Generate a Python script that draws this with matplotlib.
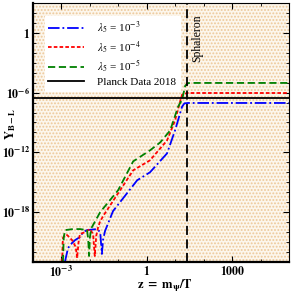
import numpy as np
import matplotlib
matplotlib.use("Agg")
from matplotlib import pyplot as plt
from matplotlib.patches import Rectangle
from matplotlib.ticker import FixedLocator, NullFormatter

plt.rcParams['font.family'] = 'Liberation Serif'
plt.rcParams['mathtext.fontset'] = 'stix'
plt.rcParams['hatch.linewidth'] = 0.9

# log10 of z and Y_{B-L}
green_lz = [-2.95, -2.92, -2.87, -2.6, -2.35, -2.10, -2.06, -2.03, -2.0, -1.95, -1.64,
            -1.01, -0.48, 0.11, 0.47, 0.82, 1.10, 1.24, 1.35, 1.45, 1.52, 5.0]
green_ly = [-23.0, -20.5, -19.8, -19.7, -19.7, -19.8, -20.8, -22.4, -20.5, -19.6, -18.0,
            -15.8, -12.9, -11.8, -11.0, -9.8, -7.4, -6.7, -5.3, -5.05, -5.03, -5.03]

red_lz = [-2.98, -2.95, -2.88, -2.80, -2.63, -2.50, -2.45, -2.40, -2.35, -2.17, -2.0,
          -1.89, -1.83, -1.78, -1.72, -1.64, -1.47, -1.40, -0.48, 0.11, 0.71, 0.99,
          1.17, 1.24, 1.42, 5.0]
red_ly = [-23.0, -20.6, -20.3, -20.3, -20.8, -21.5, -22.6, -21.0, -20.2, -20.0, -19.7,
          -20.2, -22.4, -20.4, -19.6, -18.9, -18.1, -17.8, -13.8, -12.8, -10.8, -8.8,
          -6.9, -6.2, -6.04, -6.04]

blue_lz = [-2.88, -2.77, -2.63, -2.52, -2.35, -2.24, -2.10, -1.75, -1.64, -1.58, -1.54,
           -1.47, -1.19, -0.34, 0.11, 0.71, 0.99, 1.24, 1.32, 1.45, 5.0]
blue_ly = [-23.0, -21.6, -21.1, -20.8, -20.5, -20.0, -19.8, -19.7, -20.0, -22.2, -20.8,
           -19.9, -17.9, -14.8, -14.0, -12.1, -9.8, -7.4, -7.08, -7.04, -7.04]

planck_value = 3.2e-7
z_sphaleron = 26.0

labels = [r'$\lambda_5$ = 10$^{-3}$', r'$\lambda_5$ = 10$^{-4}$', r'$\lambda_5$ = 10$^{-5}$']

fig = plt.figure(figsize=(2.95, 2.95), dpi=100)
ax = fig.add_axes([0.112, 0.112, 0.868, 0.878])

# dotted background texture
ax.add_patch(Rectangle((0, 0), 1, 1, transform=ax.transAxes, facecolor='#fcf6ec',
                       edgecolor='#edc898', hatch='.....', lw=0, zorder=0))

ax.plot(10 ** np.array(blue_lz), 10 ** np.array(blue_ly), color='blue', ls='-.', lw=1.3, label=labels[0])
ax.plot(10 ** np.array(red_lz), 10 ** np.array(red_ly), color='red', ls=(0, (2, 1.2)), lw=1.3, label=labels[1])
ax.plot(10 ** np.array(green_lz), 10 ** np.array(green_ly), color='green', ls=(0, (4, 2)), lw=1.3, label=labels[2])
ax.axhline(planck_value, color='black', lw=1.3, label='Planck Data 2018')
ax.axvline(z_sphaleron, color='black', ls=(0, (5, 2.5)), lw=1.3)
ax.text(z_sphaleron * 1.35, 10 ** 1.9, 'Sphaleron', rotation=90, fontsize=8.5, va='top', ha='left')

ax.set_xscale('log')
ax.set_yscale('log')
ax.set_xlim(1e-4, 1e5)
ax.set_ylim(1e-23, 1e3)

ax.xaxis.set_major_locator(FixedLocator([1e-3, 1, 1e3]))
ax.xaxis.set_minor_locator(FixedLocator([10.0 ** k for k in range(-4, 6)]))
ax.set_xticklabels([r'$\mathbf{10^{-3}}$', r'$\mathbf{1}$', r'$\mathbf{1000}$'])
ax.yaxis.set_major_locator(FixedLocator([1e-18, 1e-12, 1e-6, 1]))
ax.yaxis.set_minor_locator(FixedLocator([10.0 ** k for k in range(-23, 4)]))
ax.set_yticklabels([r'$\mathbf{10^{-18}}$', r'$\mathbf{10^{-12}}$', r'$\mathbf{10^{-6}}$', r'$\mathbf{1}$'])
ax.xaxis.set_minor_formatter(NullFormatter())
ax.yaxis.set_minor_formatter(NullFormatter())
ax.tick_params(which='both', direction='in', top=True, right=True, labelsize=8.5, pad=2)
ax.tick_params(which='major', length=4)
ax.tick_params(which='minor', length=2)

fig.text(0.56, 0.032, r'$\mathbf{z\ =\ m_\psi/T}$', fontsize=9, ha='center', va='center')
fig.text(0.035, 0.58, r'$\mathbf{Y_{B-L}}$', fontsize=9, rotation=90, ha='center', va='center')

for side in ['left', 'bottom']:
    ax.spines[side].set_linewidth(1.6)
for side in ['top', 'right']:
    ax.spines[side].set_linewidth(0.8)

leg = ax.legend(loc='upper left', bbox_to_anchor=(0.025, 0.97), fontsize=8, frameon=True,
                fancybox=False, framealpha=1, edgecolor='white', handlelength=3.2,
                borderpad=0.3, labelspacing=0.25, handletextpad=1.2)

plt.savefig('out.png', dpi=100)
